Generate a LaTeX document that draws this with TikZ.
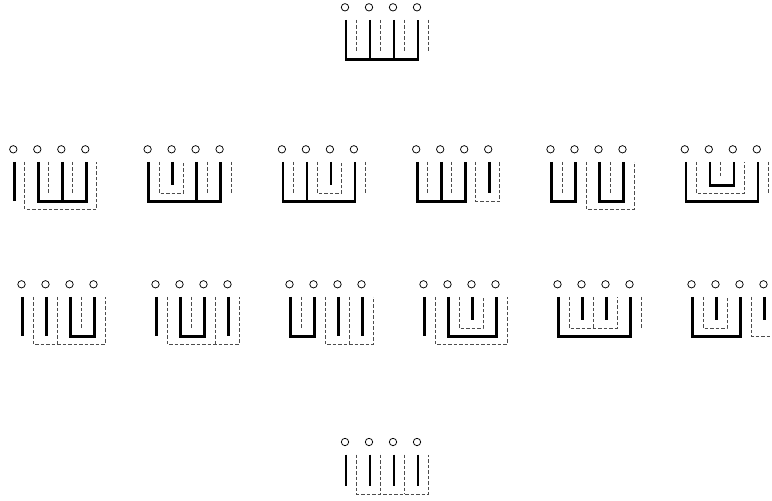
\documentclass[tikz,border=0pt]{standalone}
\tikzset{
 sol/.style={line width=2.6pt, line join=miter, line cap=butt},
 dsh/.style={line width=0.9pt, black!70, dash pattern=on 3.5pt off 2pt},
 ptc/.style={line width=0.75pt}
}
\newcommand\Ss[2]{\draw[sol] ({24*#1-23},12.5) -- ({24*#1-23},#2);}
\newcommand\Sb[3]{\draw[sol] ({24*#1-23},12.5) -- ({24*#1-23},#3) -- ({24*#2-23},#3) -- ({24*#2-23},12.5);}
\newcommand\Ds[2]{\draw[dsh] ({24*#1-12.5},12.5) -- ({24*#1-12.5},#2);}
\newcommand\Db[3]{\draw[dsh] ({24*#1-12.5},12.5) -- ({24*#1-12.5},#3) -- ({24*#2-12.5},#3) -- ({24*#2-12.5},12.5);}
\newcommand\Pts{\foreach \k in {0,1,2,3} {\draw[ptc] (24*\k,0) circle[radius=3.7pt];}}
\begin{document}
\begin{tikzpicture}[x=1pt,y=-1pt]
\useasboundingbox (0,0) rectangle (772,501);
\clip (0,0) rectangle (772,501);
% top
\begin{scope}[shift={(345,7.3)}]
\Pts \Sb{1}{4}{52}\Ss{2}{52}\Ss{3}{52}
\Ds{1}{44}\Ds{2}{44}\Ds{3}{44}\Ds{4}{44}
\end{scope}
% row 2
\begin{scope}[shift={(13.3,149.3)}]
\Pts \Ss{1}{52}\Sb{2}{4}{52}\Ss{3}{52}
\Ds{2}{44}\Ds{3}{44}\Db{1}{4}{60}
\end{scope}
\begin{scope}[shift={(147.6,149.3)}]
\Pts \Sb{1}{4}{52}\Ss{3}{52}\Ss{2}{36}
\Db{1}{2}{44}\Ds{3}{44}\Ds{4}{44}
\end{scope}
\begin{scope}[shift={(281.9,149.3)}]
\Pts \Sb{1}{4}{52}\Ss{2}{52}\Ss{3}{36}
\Db{2}{3}{44}\Ds{1}{44}\Ds{4}{44}
\end{scope}
\begin{scope}[shift={(416.2,149.3)}]
\Pts \Sb{1}{3}{52}\Ss{2}{52}\Ss{4}{44}
\Db{3}{4}{52}\Ds{1}{44}\Ds{2}{44}
\end{scope}
\begin{scope}[shift={(550.5,149.3)}]
\Pts \Sb{1}{2}{52}\Sb{3}{4}{52}
\Ds{1}{44}\Db{2}{4}{60}\Ds{3}{44}
\end{scope}
\begin{scope}[shift={(684.8,149.3)}]
\Pts \Sb{1}{4}{52}\Sb{2}{3}{36}
\Db{1}{3}{44}\Ds{2}{28}\Ds{4}{44}
\end{scope}
% row 3
\begin{scope}[shift={(21.5,284.3)}]
\Pts \Ss{1}{52}\Ss{2}{52}\Sb{3}{4}{52}
\Ds{3}{44}\Db{1}{4}{60}\Ds{2}{60}
\end{scope}
\begin{scope}[shift={(155.5,284.3)}]
\Pts \Ss{1}{52}\Sb{2}{3}{52}\Ss{4}{52}
\Ds{2}{44}\Db{1}{4}{60}\Ds{3}{60}
\end{scope}
\begin{scope}[shift={(289.5,284.3)}]
\Pts \Sb{1}{2}{52}\Ss{3}{52}\Ss{4}{52}
\Ds{1}{44}\Db{2}{4}{60}\Ds{3}{60}
\end{scope}
\begin{scope}[shift={(423.5,284.3)}]
\Pts \Ss{1}{52}\Sb{2}{4}{52}\Ss{3}{36}
\Db{1}{4}{60}\Db{2}{3}{44}
\end{scope}
\begin{scope}[shift={(557.5,284.3)}]
\Pts \Sb{1}{4}{52}\Ss{2}{36}\Ss{3}{36}
\Db{1}{3}{44}\Ds{2}{44}\Ds{4}{44}
\end{scope}
\begin{scope}[shift={(691.5,284.3)}]
\Pts \Sb{1}{3}{52}\Ss{2}{36}\Ss{4}{36}
\Db{1}{2}{44}\Db{3}{4}{52}
\end{scope}
% bottom
\begin{scope}[shift={(345,442)}]
\Pts \Ss{1}{44}\Ss{2}{44}\Ss{3}{44}\Ss{4}{44}
\Db{1}{4}{52}\Ds{2}{52}\Ds{3}{52}
\end{scope}
\end{tikzpicture}
\end{document}
